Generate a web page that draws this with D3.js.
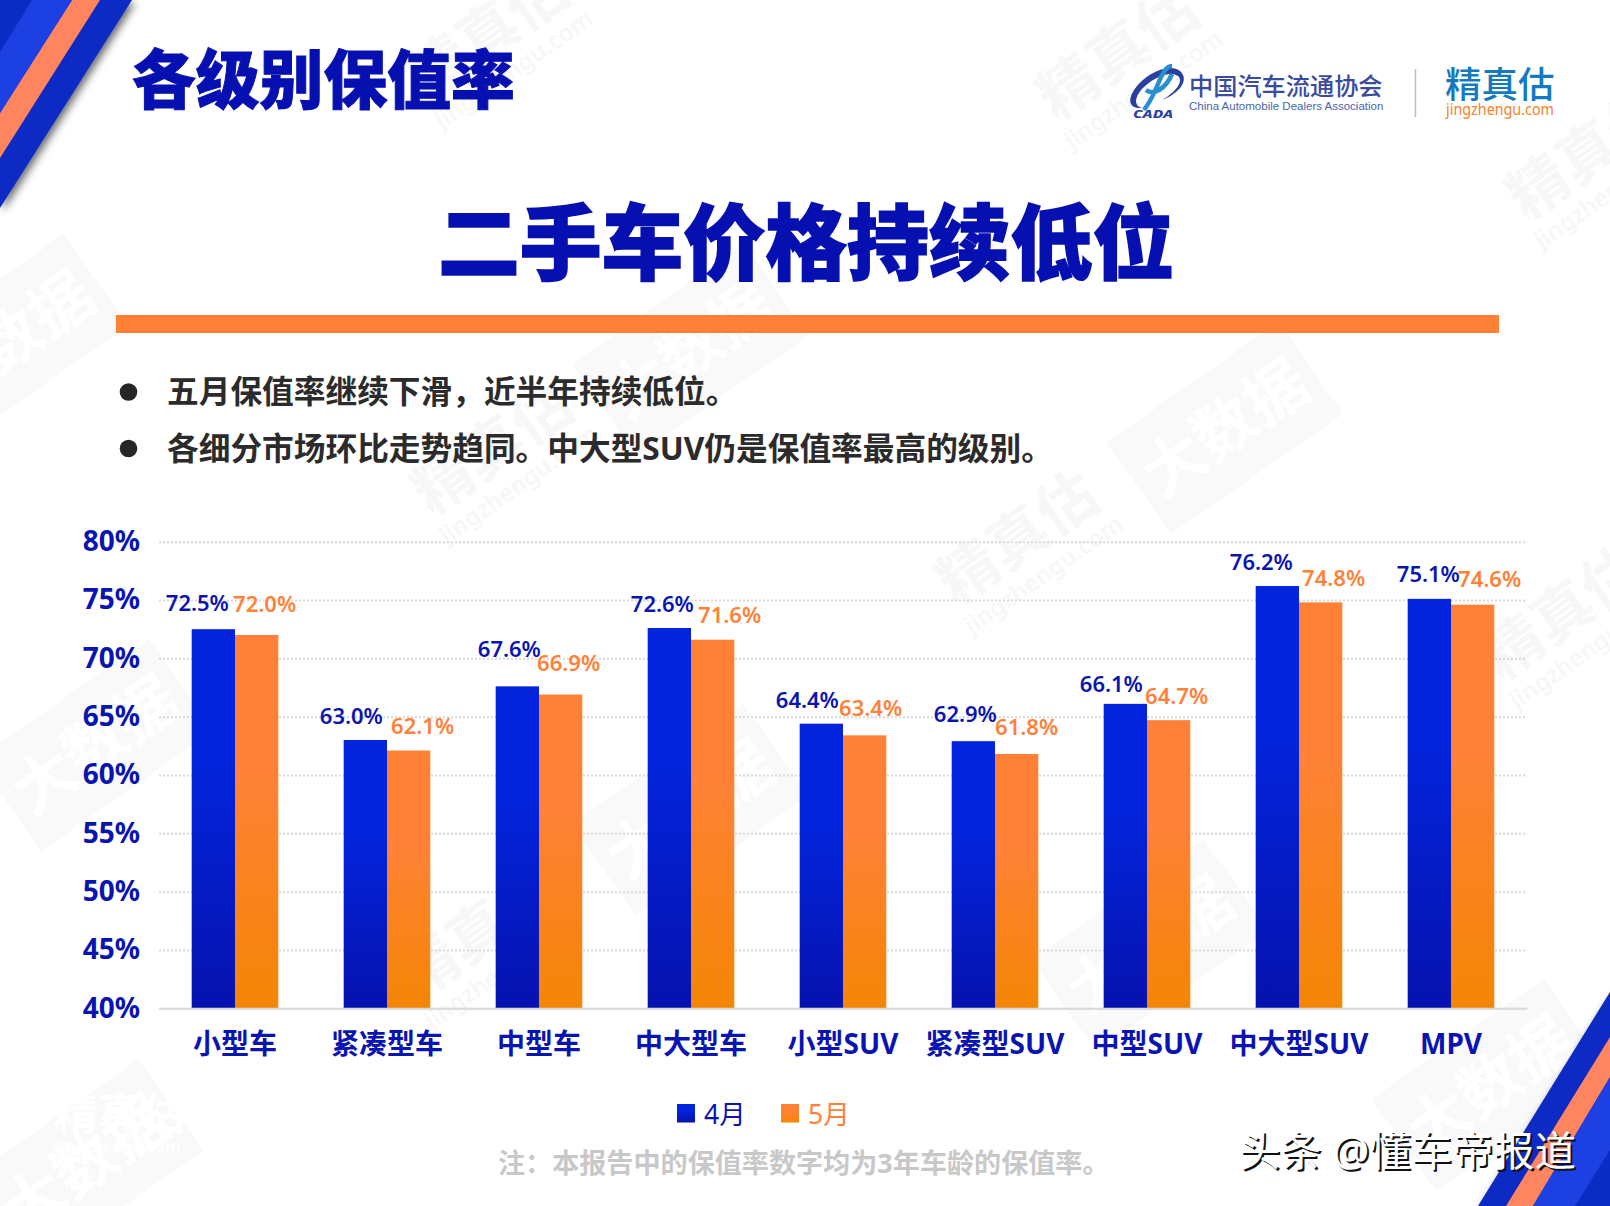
<!DOCTYPE html>
<html>
<meta charset="utf-8">
<style>
html, body { margin: 0; padding: 0; background: #fff; }
svg { display: block; }
text { font-family: "Noto Sans", "Noto Sans CJK SC", sans-serif; }
.cjk { font-family: "Noto Sans CJK SC", sans-serif; }
.axis--y path, .axis--x line { display: none; }
.axis--y line { stroke: #d9d9d9; stroke-width: 2; stroke-dasharray: 2 2; }
.axis--x path { stroke: #d9d9d9; stroke-width: 2; }
.axis--y text { font-size: 28px; font-weight: 700; fill: #0a14b0; }
.axis--x text { font-size: 28px; font-weight: 700; fill: #0a14b0; }
.label { font-size: 22px; font-weight: 600; text-anchor: middle; dominant-baseline: central; }
</style>
<body>
<svg width="1610" height="1206"></svg>
<script src="https://d3js.org/d3.v7.min.js"></script>
<script>
var categories = ["小型车", "紧凑型车", "中型车", "中大型车", "小型SUV", "紧凑型SUV", "中型SUV", "中大型SUV", "MPV"];
var seriesNames = ["4月", "5月"];
var aprValues = [72.5, 63.0, 67.6, 72.6, 64.4, 62.9, 66.1, 76.2, 75.1];
var mayValues = [72.0, 62.1, 66.9, 71.6, 63.4, 61.8, 64.7, 74.8, 74.6];
var yTicks = [40, 45, 50, 55, 60, 65, 70, 75, 80];
var bullets = ["五月保值率继续下滑，近半年持续低位。", "各细分市场环比走势趋同。中大型SUV仍是保值率最高的级别。"];

// the labels were nudged by hand in the original slide
var aprNudge = [[-16, -27], [-14, -25], [-8, -38], [-7, -25], [-14, -25], [-8, -28], [-14, -21], [-16, -25], [-1, -26]];
var mayNudge = [[8, -32], [14, -26], [8, -33], [17, -26], [6, -28], [10, -28], [8, -25], [13, -25], [17, -27]];

var svg = d3.select("svg");
var defs = svg.append("defs");

function gradient(id, top, bottom) {
  var g = defs.append("linearGradient").attr("id", id).attr("x1", 0).attr("y1", 0).attr("x2", 0).attr("y2", 1);
  g.append("stop").attr("offset", "0%").attr("stop-color", top);
  g.append("stop").attr("offset", "35%").attr("stop-color", top);
  g.append("stop").attr("offset", "100%").attr("stop-color", bottom);
}
gradient("blueBar", "#0324dc", "#0612ae");
gradient("orangeBar", "#ff8138", "#f58605");

var shadow = defs.append("filter").attr("id", "shadow").attr("x", "-20%").attr("y", "-20%").attr("width", "140%").attr("height", "140%");
shadow.append("feDropShadow").attr("dx", 3).attr("dy", 3).attr("stdDeviation", 4).attr("flood-color", "#000").attr("flood-opacity", 0.6);

// background watermarks
var wm = svg.append("g");
var tiles = [[1225, 428], [10, 340], [95, 745], [690, 810], [1150, 945], [85, 1165], [1490, 1085], [690, 350]];
tiles.forEach(function(t) {
  var g = wm.append("g").attr("transform", "translate(" + t[0] + "," + t[1] + ") rotate(-35)");
  g.append("rect").attr("x", -105).attr("y", -56).attr("width", 210).attr("height", 112).attr("fill", "#f9f9f9");
  g.append("text").attr("class", "cjk").attr("text-anchor", "middle").attr("y", 22).attr("font-size", 62).attr("font-weight", 700).attr("fill", "#fff").text("大数据");
});
var stamps = [[1130, 70], [1030, 555], [1575, 630], [505, 465], [1600, 170], [490, 950], [500, 50]];
stamps.forEach(function(t) {
  var g = wm.append("g").attr("transform", "translate(" + t[0] + "," + t[1] + ") rotate(-35)");
  g.append("text").attr("class", "cjk").attr("text-anchor", "middle").attr("font-size", 60).attr("font-weight", 700).attr("fill", "#f7f7f7").text("精真估");
  g.append("text").attr("text-anchor", "middle").attr("y", 32).attr("font-size", 24).attr("font-weight", 600).attr("fill", "#f7f7f7").text("jingzhengu.com");
});
wm.append("text").attr("class", "cjk").attr("text-anchor", "middle").attr("x", 120).attr("y", 1130).attr("font-size", 44).attr("font-weight", 700).attr("fill", "#fff").text("精真估");
wm.append("text").attr("text-anchor", "middle").attr("x", 118).attr("y", 1152).attr("font-size", 16).attr("font-weight", 600).attr("fill", "#fff").text("jingzhengu.com");

// corner stripes
function poly(parent, pts, fill) {
  return parent.append("polygon").attr("points", pts.map(function(p) { return p.join(","); }).join(" ")).attr("fill", fill);
}
var tl = svg.append("g");
poly(tl, [[0, 0], [132, 0], [0, 208]], "#0a2bc4").attr("filter", "url(#shadow)");
poly(tl, [[72, 0], [100, 0], [0, 158], [0, 113]], "#ff8560");
poly(tl, [[0, 0], [72, 0], [0, 113]], "#1c40e2");
poly(tl, [[0, 0], [32, 0], [0, 52]], "#0a2bc4");

var br = svg.append("g");
poly(br, [[1610, 992], [1610, 1206], [1478, 1206]], "#0a2bc4").attr("filter", "url(#shadow)");
poly(br, [[1610, 1037], [1610, 1077], [1533, 1206], [1506, 1206]], "#ff8560");
poly(br, [[1610, 1077], [1610, 1206], [1533, 1206]], "#1c40e2");
poly(br, [[1610, 1150], [1610, 1206], [1575, 1206]], "#0a2bc4");

// headings
svg.append("text").attr("class", "cjk").attr("x", 132).attr("y", 103).attr("font-size", 63.8).attr("font-weight", 900)
  .attr("fill", "#0610b0").attr("stroke", "#0610b0").attr("stroke-width", 1).text("各级别保值率");
svg.append("text").attr("class", "cjk").attr("x", 438).attr("y", 273).attr("font-size", 81.8).attr("font-weight", 900)
  .attr("fill", "#0610b0").attr("stroke", "#0610b0").attr("stroke-width", 1.5).text("二手车价格持续低位");
svg.append("rect").attr("x", 116).attr("y", 315).attr("width", 1383).attr("height", 18).attr("fill", "#ff8138");

svg.selectAll(".bullet").data(bullets).enter().append("g").attr("class", "bullet")
  .each(function(d, i) {
    var g = d3.select(this), cy = 392 + i * 56.5;
    g.append("circle").attr("cx", 128.5).attr("cy", cy).attr("r", 8.8).attr("fill", "#262626");
    g.append("text").attr("x", 167).attr("y", cy + 11).attr("font-size", 31.7).attr("font-weight", 700).attr("fill", "#2b2b2b").text(d);
  });

// logos
var logo = svg.append("g");
logo.append("path").attr("d", "M1181 72 C1172 62 1146 72 1134 90 C1127 101 1130 109 1142 108 C1134 106 1134 98 1142 89 C1152 78 1170 70 1178 76 C1184 81 1176 92 1162 100 C1176 95 1190 82 1181 72 Z")
  .attr("fill", "#2b3f9e");
logo.append("path").attr("d", "M1172 66 C1166 66 1162 74 1158 84 C1154 94 1150 102 1144 110 M1146 90 C1154 96 1166 88 1172 74")
  .attr("fill", "none").attr("stroke", "#2a8fd0").attr("stroke-width", 4.5);
logo.append("text").attr("x", 1133).attr("y", 118).attr("font-size", 10).attr("font-weight", 800).attr("font-style", "italic")
  .attr("textLength", 40).attr("lengthAdjust", "spacingAndGlyphs").attr("fill", "#2b3f9e").text("CADA");
logo.append("text").attr("class", "cjk").attr("x", 1189).attr("y", 95).attr("font-size", 24.2).attr("font-weight", 500).attr("fill", "#3a4a9f").text("中国汽车流通协会");
logo.append("text").attr("x", 1189).attr("y", 110).attr("font-size", 11.5).attr("fill", "#4a64ad").style("font-family", "Liberation Sans").text("China Automobile Dealers Association");
logo.append("line").attr("x1", 1415.5).attr("x2", 1415.5).attr("y1", 69).attr("y2", 117).attr("stroke", "#bdbdbd").attr("stroke-width", 1.5);
logo.append("text").attr("class", "cjk").attr("x", 1445).attr("y", 98).attr("font-size", 36.5).attr("font-weight", 500).attr("fill", "#1479be").text("精真估");
logo.append("text").attr("x", 1446).attr("y", 115).attr("font-size", 16.5).attr("textLength", 108).attr("lengthAdjust", "spacingAndGlyphs").attr("fill", "#f5822a").text("jingzhengu.com");

// chart
var left = 159, right = 1527, top_ = 541.7, bottom = 1008.3;

var x = d3.scaleBand().domain(categories).range([left, right]).paddingInner(0.43).paddingOuter(0.215);
var xSeries = d3.scaleBand().domain(seriesNames).range([0, x.bandwidth()]);
var y = d3.scaleLinear().domain([40, 80]).range([bottom, top_]);

svg.append("g").attr("class", "axis axis--y").attr("transform", "translate(" + left + ",0)")
  .call(d3.axisLeft(y).tickValues(yTicks).tickSize(-(right - left)).tickPadding(19).tickFormat(function(d) { return d + "%"; }));

var fills = ["url(#blueBar)", "url(#orangeBar)"];
var labelColors = ["#0a14b0", "#ff8138"];
var nudges = [aprNudge, mayNudge];

[aprValues, mayValues].forEach(function(values, s) {
  var name = seriesNames[s];
  svg.append("g").selectAll("rect").data(values).enter().append("rect")
    .attr("x", function(d, i) { return x(categories[i]) + xSeries(name); })
    .attr("y", function(d) { return y(d); })
    .attr("width", xSeries.bandwidth())
    .attr("height", function(d) { return y(40) - y(d); })
    .attr("fill", fills[s]);
});

svg.append("g").attr("class", "axis axis--x").attr("transform", "translate(0," + bottom + ")")
  .call(d3.axisBottom(x).tickSize(0).tickPadding(26));

[aprValues, mayValues].forEach(function(values, s) {
  var name = seriesNames[s];
  svg.append("g").selectAll("text").data(values).enter().append("text")
    .attr("class", "label")
    .attr("x", function(d, i) { return x(categories[i]) + xSeries(name) + xSeries.bandwidth() / 2 + nudges[s][i][0]; })
    .attr("y", function(d, i) { return y(d) + nudges[s][i][1]; })
    .attr("fill", labelColors[s])
    .text(function(d) { return d.toFixed(1) + "%"; });
});

// legend
var legendX = [677, 781];
seriesNames.forEach(function(name, s) {
  svg.append("rect").attr("x", legendX[s]).attr("y", 1104).attr("width", 18).attr("height", 18.5).attr("fill", fills[s]);
  svg.append("text").attr("x", legendX[s] + 27).attr("y", 1124).attr("font-size", 26.5).attr("fill", labelColors[s]).text(name);
});

svg.append("text").attr("x", 498).attr("y", 1173).attr("font-size", 27.1).attr("font-weight", 700).attr("fill", "#c8c8c8")
  .text("注：本报告中的保值率数字均为3年车龄的保值率。");

// site stamp over the slide
var stamp = svg.append("g").attr("font-size", 41.3);
stamp.append("text").attr("x", 1241).attr("y", 1168).attr("fill", "#111").text("头条 @懂车帝报道");
stamp.append("text").attr("x", 1239).attr("y", 1166).attr("fill", "#fff").text("头条 @懂车帝报道");
</script>
</body>
</html>
